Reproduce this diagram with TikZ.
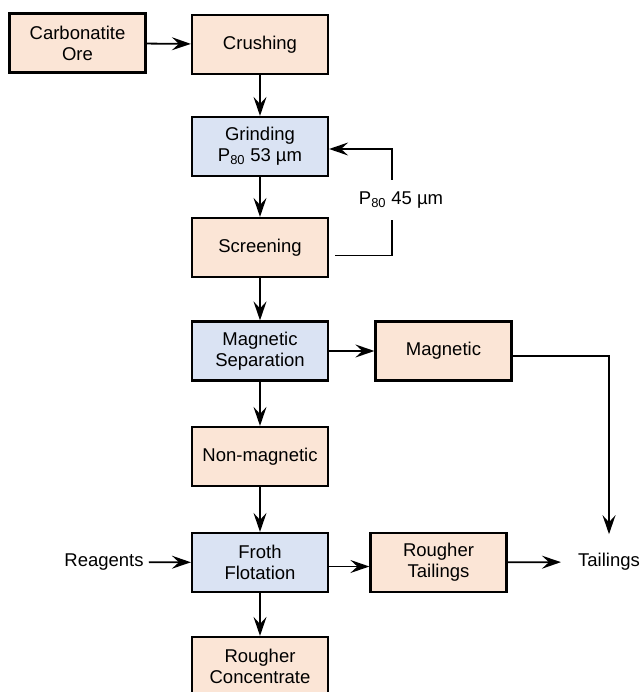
\documentclass[tikz,border=0pt]{standalone}
\usepackage{fontspec}
\setmainfont{Liberation Sans}
\usetikzlibrary{arrows.meta}

\definecolor{peach}{HTML}{FBE5D6}
\definecolor{paleblue}{HTML}{DAE3F3}

\tikzset{
  unitbox/.style={draw, line width=2.2pt, minimum width=136pt, minimum height=59pt,
    align=center, inner sep=0pt, font=\fontsize{18.5}{21}\selectfont},
  feed/.style={unitbox, fill=peach},
  proc/.style={unitbox, fill=paleblue},
  lbl/.style={font=\fontsize{18.5}{21}\selectfont, inner sep=5pt},
  flow/.style={line width=1.8pt, -{Stealth[length=19pt,width=13pt,inset=7pt]}},
}

\begin{document}
\begin{tikzpicture}[x=1pt,y=-1pt]
  \clip (0,0) rectangle (643,692);
  \fill[white] (0,0) rectangle (643,692);

  % main line
  \node[feed] (ore) at (77.5,43) {Carbonatite\\Ore};
  \node[feed] (crush) at (260,44.5) {Crushing};
  \node[proc] (grind) at (260,146.5) {Grinding\\P\textsubscript{80} 53 µm};
  \node[feed] (screen) at (260,247.5) {Screening};
  \node[proc] (magsep) at (260,351) {Magnetic\\Separation};
  \node[feed] (magnetic) at (443.5,351) {Magnetic};
  \node[feed] (nonmag) at (260,456.5) {Non-magnetic};
  \node[proc] (froth) at (260,562.5) {Froth\\Flotation};
  \node[feed] (rtail) at (438.5,562.5) {Rougher\\Tailings};
  \node[feed] (rconc) at (260,666.5) {Rougher\\Concentrate};

  % free labels
  \node[lbl] (reag) at (104,562) {Reagents};
  \node[lbl, inner xsep=17pt, inner ysep=19pt] (tail) at (609,562) {Tailings};

  \draw[flow] (ore) -- (crush);
  \draw[flow] (crush) -- (grind);
  \draw[flow] (grind) -- (screen);
  \draw[flow] (screen) -- (magsep);
  \draw[flow] (magsep) -- (magnetic);
  \draw[flow] (magsep) -- (nonmag);
  \draw[flow] (nonmag) -- (froth);
  \draw[flow] (reag) -- (froth);
  \draw[flow] ([yshift=-4pt]froth.east) -- ([yshift=-4pt]rtail.west);
  \draw[flow] (froth) -- (rconc);
  \draw[flow] (rtail) -- (tail);
  \draw[flow] ([yshift=-5pt]magnetic.east) -| (tail.north);

  % recycle loop
  \coordinate (fb) at (392,200);
  \draw[flow, shorten <=6pt] ([yshift=-8pt]screen.east) -| (fb) |- ([yshift=-2.5pt]grind.east);
  \node[lbl, fill=white, inner xsep=3pt, inner ysep=12pt] (p45) at (401,200) {P\textsubscript{80} 45 µm};
\end{tikzpicture}
\end{document}
